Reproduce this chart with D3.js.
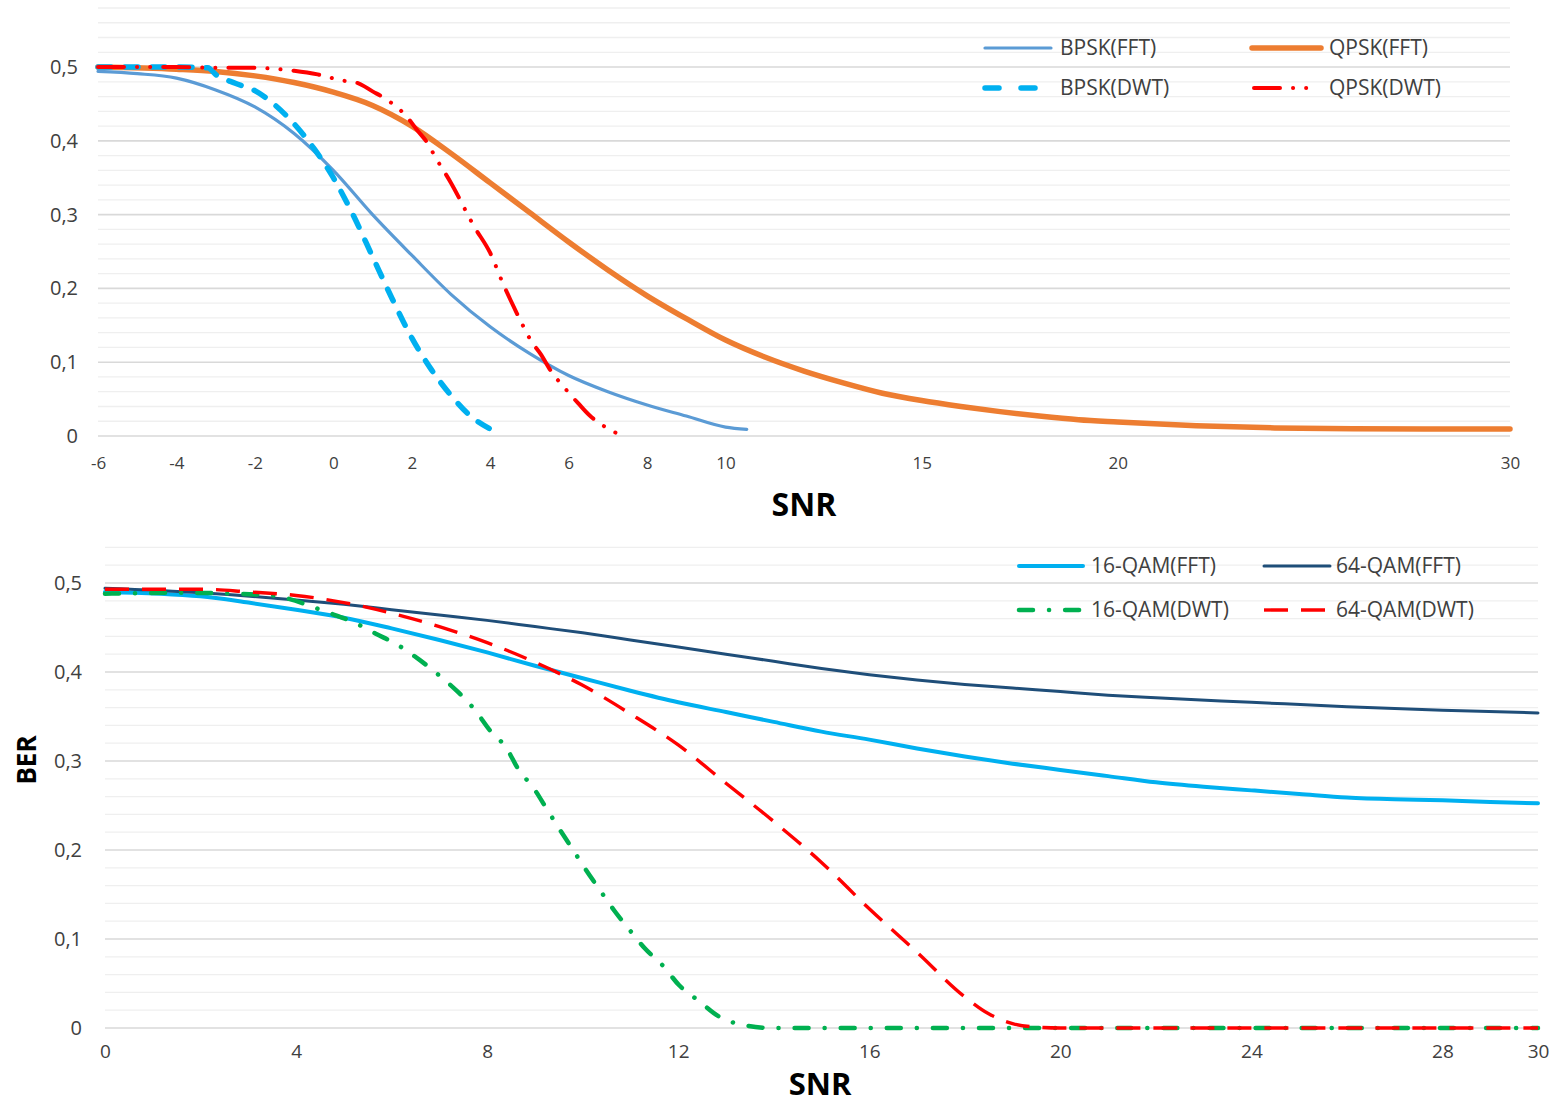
<!DOCTYPE html>
<html>
<head>
<meta charset="utf-8">
<script src="https://cdn.jsdelivr.net/npm/d3@7"></script>
<style>
  html, body { margin: 0; padding: 0; background: #ffffff; }
  svg { display: block; font-family: "Open Sans", "Noto Sans", sans-serif; }
</style>
</head>
<body>
<svg id="chart" width="1557" height="1106"></svg>
<script>
// ---------- DATA ----------
// Top panel: [SNR, BER]
const bpskFft = [[-6,0.494],[-5,0.491],[-4,0.485],[-3,0.469],[-2,0.446],[-1,0.41],[0,0.36],[1,0.3],[2,0.245],[3,0.192],[4,0.148],[5,0.112],[6,0.082],[7,0.06],[8,0.042],[9,0.027],[10,0.012],[10.54,0.009]];
const bpskDwt = [[-6,0.5],[-5,0.5],[-4,0.5],[-3.2,0.499],[-3,0.49],[-2.5,0.478],[-2,0.468],[-1.5,0.449],[-1,0.423],[-0.5,0.39],[0,0.35],[0.5,0.3],[1,0.243],[1.5,0.186],[2,0.133],[2.5,0.09],[3,0.055],[3.5,0.027],[4.05,0.008]];
const qpskFft = [[-6,0.5],[-4,0.497],[-3,0.494],[-2,0.488],[-1,0.479],[0,0.466],[1,0.448],[2,0.42],[3,0.383],[4,0.343],[5,0.303],[6,0.263],[7,0.225],[8,0.19],[9,0.159],[10,0.13],[11,0.107],[12,0.088],[13,0.072],[14,0.058],[15,0.048],[16,0.04],[17,0.033],[18,0.027],[19,0.022],[20,0.019],[22,0.014],[24,0.011],[26,0.0098],[30,0.0095]];
const qpskDwt = [[-6,0.5],[-5,0.5],[-4,0.5],[-3,0.499],[-2,0.499],[-1.6,0.498],[-1,0.495],[-0.4,0.49],[0.2,0.482],[0.64,0.478],[1,0.467],[1.3,0.458],[1.9,0.431],[2.13,0.415],[2.4,0.397],[2.6,0.378],[3.0,0.343],[3.6,0.283],[4.0,0.248],[4.33,0.206],[4.52,0.184],[4.85,0.148],[5.04,0.129],[5.3,0.11],[5.5,0.092],[5.98,0.06],[6.24,0.0445],[6.53,0.028],[6.85,0.015],[7.32,0.0014]];

// Bottom panel: [SNR, BER]
const qam16Fft = [[0,0.49],[2,0.485],[3,0.478],[4,0.47],[5,0.461],[6,0.449],[7,0.436],[8,0.422],[9,0.407],[10,0.393],[11,0.379],[12,0.366],[13,0.355],[14,0.344],[15,0.333],[16,0.324],[17,0.314],[18,0.305],[19,0.297],[20,0.29],[21,0.283],[22,0.276],[23,0.271],[24,0.267],[25,0.263],[26,0.259],[27,0.257],[28,0.256],[29,0.254],[30,0.2525]];
const qam64Fft = [[0,0.494],[2,0.489],[4,0.481],[5,0.476],[6,0.47],[7,0.464],[8,0.458],[9,0.451],[10,0.444],[11,0.436],[12,0.428],[13,0.42],[14,0.412],[15,0.404],[16,0.397],[17,0.391],[18,0.386],[19,0.382],[20,0.378],[21,0.374],[22,0.371],[24,0.366],[26,0.361],[28,0.357],[30,0.354]];
const qam16Dwt = [[0,0.488],[1.5,0.489],[3.38,0.4865],[4.71,0.466],[5.16,0.457],[5.67,0.443],[6.14,0.43],[6.6,0.413],[7.0,0.396],[7.4,0.377],[7.75,0.357],[8.05,0.335],[8.41,0.314],[8.65,0.291],[8.98,0.269],[9.25,0.246],[9.52,0.223],[9.8,0.2],[10.07,0.1775],[10.36,0.155],[10.66,0.132],[10.97,0.111],[11.3,0.0895],[11.68,0.07],[12.02,0.048],[12.44,0.03],[12.86,0.0127],[13.4,0.003],[13.96,0],[16,0],[20,0],[25,0],[30,0]];
const qam64Dwt = [[0,0.493],[2,0.493],[3,0.49],[4,0.486],[5,0.478],[6,0.466],[7,0.451],[8,0.433],[9,0.411],[10,0.385],[11,0.353],[12,0.318],[13,0.275],[14,0.232],[15,0.186],[16,0.134],[17,0.085],[18,0.035],[18.5,0.016],[19,0.005],[19.5,0.001],[20,0],[25,0],[30,0]];

// Tick values / labels
const topXTicks = [-6,-4,-2,0,2,4,6,8,10,15,20,30];
const bottomXTicks = [0,4,8,12,16,20,24,28,30];
const yMajorTicks = [0,0.1,0.2,0.3,0.4,0.5];
const topLegendLabels = ["BPSK(FFT)","BPSK(DWT)","QPSK(FFT)","QPSK(DWT)"];
const bottomLegendLabels = ["16-QAM(FFT)","16-QAM(DWT)","64-QAM(FFT)","64-QAM(DWT)"];
const xTitle = "SNR";
const yTitle = "BER";

// ---------- DRAWING ----------
const svg = d3.select("#chart");
svg.append("rect").attr("width",1557).attr("height",1106).attr("fill","#ffffff");

const fmt = v => (v === 0 ? "0" : d3.format(".1f")(v).replace(".", ","));

function panel(cfg) {
  const g = svg.append("g");
  const x = d3.scaleLinear().domain(cfg.xDomain).range(cfg.xRange);
  const y = d3.scaleLinear().domain(cfg.yDomain).range(cfg.yRange);

  // minor grid
  const minor = d3.range(1, Math.round(cfg.yDomain[1] / 0.02) + 1).map(i => i * 0.02)
    .filter(v => Math.abs(v * 10 - Math.round(v * 10)) > 1e-6);
  g.append("g").selectAll("line").data(minor).join("line")
    .attr("x1", cfg.xRange[0]).attr("x2", cfg.xRange[1])
    .attr("y1", d => y(d)).attr("y2", d => y(d))
    .attr("stroke", "#efefef").attr("stroke-width", 1.3);
  // major grid
  g.append("g").selectAll("line").data(yMajorTicks).join("line")
    .attr("x1", cfg.xRange[0]).attr("x2", cfg.xRange[1])
    .attr("y1", d => y(d)).attr("y2", d => y(d))
    .attr("stroke", "#d9d9d9").attr("stroke-width", 1.6);

  // axes (labels only)
  const ya = g.append("g").attr("transform", `translate(${cfg.xRange[0]},0)`)
    .call(d3.axisLeft(y).tickValues(yMajorTicks).tickFormat(fmt).tickSize(0).tickPadding(cfg.yPad));
  ya.select(".domain").remove();
  ya.selectAll("text").attr("font-family", "Open Sans").attr("font-size", cfg.yFont).attr("fill", "#404040");

  const xa = g.append("g").attr("transform", `translate(0,${cfg.yRange[0]})`)
    .call(d3.axisBottom(x).tickValues(cfg.xTicks).tickFormat(d => String(d)).tickSize(0).tickPadding(cfg.xPad));
  xa.select(".domain").remove();
  xa.selectAll("text").attr("font-family", "Open Sans").attr("font-size", cfg.xFont).attr("fill", "#404040");

  // series
  const line = d3.line().x(d => x(d[0])).y(d => y(d[1])).curve(d3.curveMonotoneX);
  cfg.series.forEach(s => {
    g.append("path").datum(s.data).attr("d", line)
      .attr("fill", "none").attr("stroke", s.color).attr("stroke-width", s.width)
      .attr("stroke-dasharray", s.dash || null)
      .attr("stroke-linecap", s.cap || "round").attr("stroke-linejoin", "round");
  });

  // legend
  cfg.legend.forEach(l => {
    const s = cfg.series.find(t => t.name === l.name);
    g.append("line").attr("x1", l.x1).attr("x2", l.x2).attr("y1", l.y).attr("y2", l.y)
      .attr("stroke", s.color).attr("stroke-width", s.width)
      .attr("stroke-dasharray", s.legendDash || s.dash || null)
      .attr("stroke-linecap", s.cap || "round");
    g.append("text").attr("x", l.tx).attr("y", l.y).attr("dy", "0.35em")
      .attr("font-size", cfg.legendFont).attr("fill", "#404040").text(s.name);
  });

  // x title
  g.append("text").attr("x", cfg.titleX).attr("y", cfg.titleY).attr("dy", "0.35em")
    .attr("text-anchor", "middle").attr("font-size", cfg.titleFont).attr("font-weight", "bold")
    .attr("fill", "#000").text(xTitle);
  return g;
}

panel({
  xDomain: [-6, 30], xRange: [98, 1510],
  yDomain: [0, 0.58], yRange: [436, 8],
  xTicks: topXTicks, yPad: 20, xPad: 21, yFont: 20, xFont: 17, legendFont: 21,
  titleX: 804, titleY: 505, titleFont: 32,
  series: [
    { name: topLegendLabels[2], data: qpskFft, color: "#ED7D31", width: 5.5 },
    { name: topLegendLabels[0], data: bpskFft, color: "#5B9BD5", width: 3.2 },
    { name: topLegendLabels[1], data: bpskDwt, color: "#00B0F0", width: 5.5, dash: "13,14", legendDash: "14,22" },
    { name: topLegendLabels[3], data: qpskDwt, color: "#FF0000", width: 4, dash: "26,13,0.1,13,0.1,13", legendDash: "26,13,0.1,13,0.1,13" }
  ],
  legend: [
    { name: topLegendLabels[0], x1: 985, x2: 1051, y: 48, tx: 1060 },
    { name: topLegendLabels[1], x1: 985, x2: 1040, y: 88, tx: 1060 },
    { name: topLegendLabels[2], x1: 1252, x2: 1321, y: 48, tx: 1329 },
    { name: topLegendLabels[3], x1: 1254, x2: 1314, y: 88, tx: 1329 }
  ]
});

panel({
  xDomain: [0, 30], xRange: [105, 1538],
  yDomain: [0, 0.54], yRange: [1028, 547.4],
  xTicks: bottomXTicks, yPad: 23, xPad: 17, yFont: 20, xFont: 19, legendFont: 21,
  titleX: 820, titleY: 1084, titleFont: 31,
  series: [
    { name: bottomLegendLabels[0], data: qam16Fft, color: "#00B0F0", width: 4 },
    { name: bottomLegendLabels[2], data: qam64Fft, color: "#1F4E79", width: 3 },
    { name: bottomLegendLabels[1], data: qam16Dwt, color: "#00B050", width: 4.5, dash: "14,16,0.1,16", legendDash: "14,16,0.1,16" },
    { name: bottomLegendLabels[3], data: qam64Dwt, color: "#FF0000", width: 3.4, dash: "24,13", cap: "butt" }
  ],
  legend: [
    { name: bottomLegendLabels[0], x1: 1019, x2: 1083, y: 566, tx: 1091 },
    { name: bottomLegendLabels[1], x1: 1019, x2: 1083, y: 610, tx: 1091 },
    { name: bottomLegendLabels[2], x1: 1264, x2: 1330, y: 566, tx: 1336 },
    { name: bottomLegendLabels[3], x1: 1264, x2: 1330, y: 610, tx: 1336 }
  ]
});

// y title
svg.append("text").attr("transform", "translate(27,760) rotate(-90)").attr("dy", "0.35em")
  .attr("text-anchor", "middle").attr("font-size", 26).attr("font-weight", "bold")
  .attr("fill", "#000").text(yTitle);
</script>
</body>
</html>
